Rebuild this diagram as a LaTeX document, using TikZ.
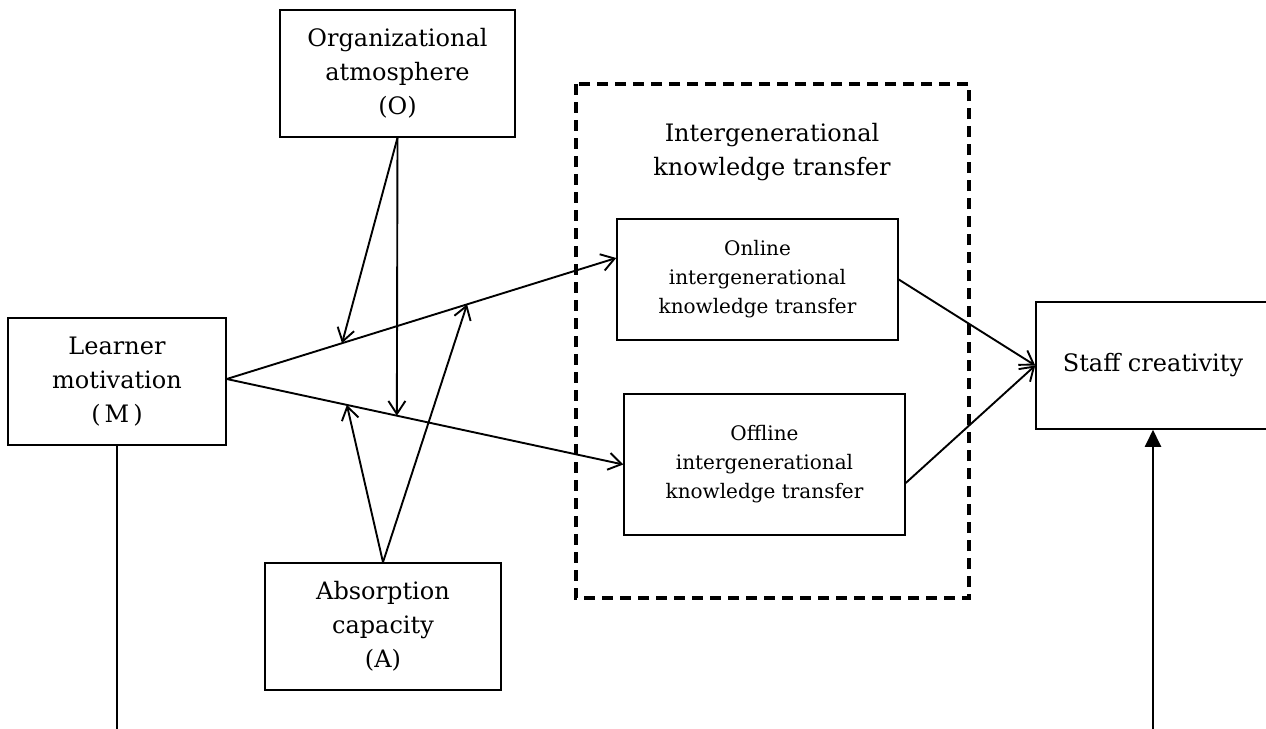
\documentclass[tikz,border=0pt]{standalone}
\usepackage{fontspec}
\setmainfont{DejaVu Serif}
\usetikzlibrary{arrows.meta,calc}
\begin{document}
\begin{tikzpicture}[x=0.5pt,y=-0.5pt,
  box/.style={draw,line width=0.75pt,inner sep=0pt,align=center,font=\fontsize{12}{17}\selectfont},
  smallbox/.style={box,font=\fontsize{10}{14.5}\selectfont},
  conn/.style={line width=0.95pt},
  barb/.style={conn,-{Straight Barb[length=6.5pt,width=8.5pt,line width=0.95pt]}},
  solidtip/.style={conn,-{Triangle[length=8.5pt,width=8pt]}}]
\clip (0,0) rectangle (1266,729);
\fill[white] (0,0) rectangle (1266,729);

% dashed container
\draw[line width=1.6pt,dash pattern=on 5.5pt off 3.5pt] (576,84) rectangle (969,598);
\node[font=\fontsize{12}{17}\selectfont,align=center] (T) at (772,152) {Intergenerational\\knowledge transfer};

% boxes
\node[box,minimum width=117.5pt,minimum height=63.5pt] (O) at (397.5,73.5) {Organizational\\atmosphere\\(O)};
\node[box,minimum width=109pt,minimum height=63.5pt] (M) at (117,381.5) {Learner\\motivation\\\makebox[1em][r]{(}\,M\,\makebox[1em][l]{)}};
\node[box,minimum width=118pt,minimum height=63.5pt] (A) at (383,626.5) {Absorption\\capacity\\(A)};
\node[smallbox,minimum width=140.5pt,minimum height=60.5pt] (On) at (757.5,279.5) {Online\\intergenerational\\knowledge transfer};
\node[smallbox,minimum width=140.5pt,minimum height=70.5pt] (Off) at (764.5,464.5) {Offline\\intergenerational\\knowledge transfer};
\node[box,minimum width=117pt,minimum height=63.5pt] (S) at (1153,365.5) {Staff creativity};

% main paths
\coordinate (Ms) at ([yshift=1.25pt]M.east);
\coordinate (OnIn) at ([yshift=10.75pt]On.west);
\draw[barb] (Ms) -- (OnIn);
\draw[barb] (Ms) -- (Off.west);

% moderation targets
\coordinate (U1) at ($(Ms)!0.296!(OnIn)$);
\coordinate (U2) at ($(Ms)!0.617!(OnIn)$);
\coordinate (L1) at ($(Ms)!0.429!(Off.west)$);
\coordinate (L2) at ($(Ms)!0.303!(Off.west)$);
\draw[barb] (O.south) -- (U1);
\draw[barb] (O.south) -- (L1);
\draw[barb] (A.north) -- (L2);
\draw[barb] (A.north) -- (U2);

% to staff creativity
\draw[barb] (On.east) -- (S.west);
\draw[barb] ([yshift=-9.25pt]Off.east) -- (S.west);

% vertical lines
\coordinate (Mb) at (117,729);
\coordinate (Sb) at (1153,729);
\draw[conn] (M.south) -- (Mb);
\draw[solidtip] (Sb) -- (S.south);
\end{tikzpicture}
\end{document}
